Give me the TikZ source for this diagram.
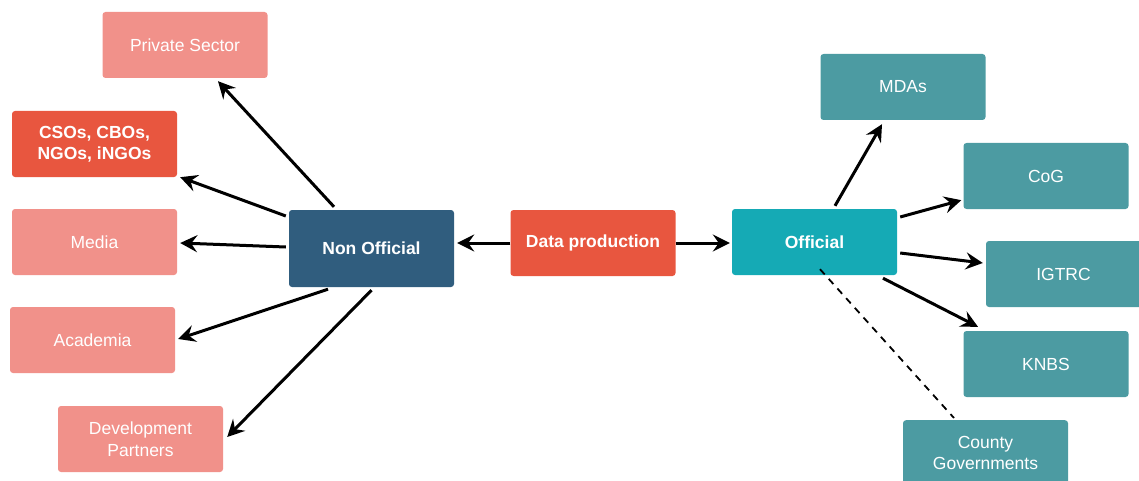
\documentclass[tikz,border=0pt]{standalone}
\usepackage{fontspec}
\setmainfont{Liberation Sans}
\usetikzlibrary{arrows.meta,calc}
\definecolor{salmon}{HTML}{F1918A}
\definecolor{redbox}{HTML}{E8563F}
\definecolor{navybox}{HTML}{305D7E}
\definecolor{cyanbox}{HTML}{15AAB5}
\definecolor{tealbox}{HTML}{4C9BA2}
\tikzset{
  box/.style={rectangle, rounded corners=3pt, minimum width=165pt, minimum height=66pt,
    inner sep=2pt, text=white, align=center, font=\fontsize{17.5}{21.5}\selectfont},
  boldbox/.style={box, font=\fontsize{17.5}{21.5}\selectfont\bfseries},
  link/.style={line width=3pt, -{Stealth[length=17pt,width=17pt,inset=6pt]}},
  weak/.style={line width=1.8pt, dash pattern=on 7pt off 6pt}
}
\begin{document}
\begin{tikzpicture}[x=1pt,y=-1pt]
\useasboundingbox (0,0) rectangle (1139,481);
\clip (0,0) rectangle (1139,481);

% producer in the middle
\node[boldbox, fill=redbox] (data) at (593,243) {Data production};
\node[boldbox, fill=navybox, minimum height=77pt] (non) at (371.5,248.5) {Non Official};
\node[boldbox, fill=cyanbox] (off) at (814.5,242) {Official};

% non-official users
\node[box, fill=salmon] (priv) at (185,45) {Private Sector};
\node[boldbox, fill=redbox] (cso) at (94.5,144) {CSOs, CBOs,\\NGOs, iNGOs};
\node[box, fill=salmon] (media) at (94.5,242) {Media};
\node[box, fill=salmon] (acad) at (92.5,340) {Academia};
\node[box, fill=salmon] (dev) at (140.5,439) {Development\\Partners};

% official users
\node[box, fill=tealbox] (mda) at (903,87) {MDAs};
\node[box, fill=tealbox] (cog) at (1046,176) {CoG};
\node[box, fill=tealbox] (igt) at (1068.5,274) {\hspace*{-10pt}IGTRC};
\node[box, fill=tealbox] (knbs) at (1046,364) {KNBS};
\node[box, fill=tealbox, anchor=north] (cty) at (985.5,420) {County\\Governments};

% data flows
\draw[link] (data.west) -- ($(data.west -| non.east)+(3,0)$);
\draw[link] (data.east) -- ($(off.west)+(-2,1)$);

\draw[link] ($(non.north)+(-37.5,-3)$) -- ($(priv.south)+(33,3)$);
\draw[link] ($(non.west)+(-3,-32.5)$) -- ($(cso.south east)+(3,0)$);
\draw[link] ($(non.west)+(-3,-1.5)$) -- ($(media.east)+(3,1)$);
\draw[link] ($(non.south)+(-43.5,2)$) -- ($(acad.east)+(3,-1)$);
\draw[link] ($(non.south)+(0,3)$) -- ($(dev.east)+(4,-2)$);

\draw[link] ($(off.north)+(20.5,-3)$) -- ($(mda.south)+(-21,4)$);
\draw[link] ($(off.east)+(3,-25)$) -- ($(cog.south west)+(-2,-9)$);
\draw[link] ($(off.east)+(3,11)$) -- ($(igt.west)+(-3,-11)$);
\draw[link] ($(off.south)+(68.5,3)$) -- ($(knbs.north)+(-68,-4)$);
\draw[weak] ($(off.south)+(5.5,-6)$) -- ($(cty.north)+(-31.5,-2)$);
\end{tikzpicture}
\end{document}
